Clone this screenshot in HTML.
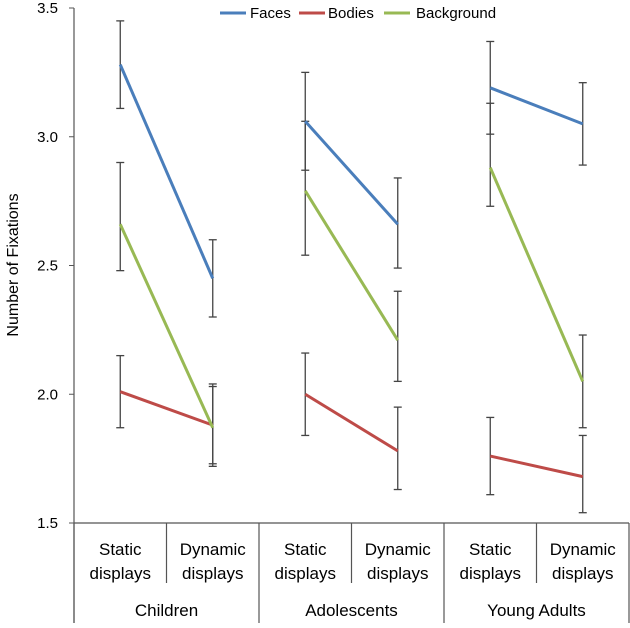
<!DOCTYPE html>
<html><head><meta charset="utf-8"><style>
html,body{margin:0;padding:0;background:#fff}
svg text{font-family:"Liberation Sans",sans-serif;fill:#000}
</style></head><body>
<svg id="chart" width="630" height="623" viewBox="0 0 630 623"></svg>
<script>
const categories=["Static displays","Dynamic displays","Static displays","Dynamic displays","Static displays","Dynamic displays"];
const groups=["Children","Adolescents","Young Adults"];
const seriesNames=["Faces","Bodies","Background"];
const colors=["#4a7ebb","#be4b48","#98b954"];
const faces=[3.28,2.45,3.06,2.66,3.19,3.05];
const facesHi=[3.45,2.60,3.25,2.84,3.37,3.21];
const facesLo=[3.11,2.30,2.87,2.49,3.01,2.89];
const bodies=[2.01,1.88,2.00,1.78,1.76,1.68];
const bodiesHi=[2.15,2.03,2.16,1.95,1.91,1.84];
const bodiesLo=[1.87,1.73,1.84,1.63,1.61,1.54];
const background=[2.66,1.87,2.79,2.21,2.88,2.05];
const backgroundHi=[2.90,2.04,3.06,2.40,3.13,2.23];
const backgroundLo=[2.48,1.72,2.54,2.05,2.73,1.87];
const yTicks=[1.5,2.0,2.5,3.0,3.5];

const svg=document.getElementById('chart');
const NS="http://www.w3.org/2000/svg";
const x0=74,x1=629,yTop=8,yBot=523,yMin=1.5,yMax=3.5;
const cw=(x1-x0)/categories.length;
const X=i=>x0+cw*(i+0.5);
const Y=v=>yBot-(v-yMin)/(yMax-yMin)*(yBot-yTop);
function mk(t,a,txt){const e=document.createElementNS(NS,t);for(const k in a)e.setAttribute(k,a[k]);if(txt!=null)e.textContent=txt;svg.appendChild(e);return e;}

let e=mk('line',{x1:x0,y1:yTop,x2:x0,y2:623,stroke:'#555','stroke-width':1.2});

e=mk('line',{x1:x0,y1:yBot,x2:x1,y2:yBot,stroke:'#555','stroke-width':1.2});

yTicks.forEach(v=>{
 const l=mk('line',{x1:x0-5,y1:Y(v),x2:x0,y2:Y(v),stroke:'#555'});
 
 const t=mk('text',{x:x0-16,y:Y(v)+5,'text-anchor':'end','font-size':15},v.toFixed(1));
 
});
e=mk('text',{x:18,y:265,'text-anchor':'middle','font-size':16,transform:'rotate(-90 18 265)'},'Number of Fixations');


for(let i=0;i<=categories.length;i++){
 const xx=x0+cw*i;const outer=i%2===0;
 const l=mk('line',{x1:xx,y1:yBot,x2:xx,y2:outer?623:583,stroke:'#555','stroke-width':1.2});
 
}
categories.forEach((c,i)=>{
 const parts=c.split(' ');
 const t1=mk('text',{x:X(i),y:555,'text-anchor':'middle','font-size':17},parts[0]);
 
 const t2=mk('text',{x:X(i),y:579,'text-anchor':'middle','font-size':17},parts[1]);
 
});
groups.forEach((g,i)=>{
 const t=mk('text',{x:x0+cw*(2*i+1),y:616,'text-anchor':'middle','font-size':17},g);
 
});

const sets=[[faces,facesHi,facesLo],[bodies,bodiesHi,bodiesLo],[background,backgroundHi,backgroundLo]];
sets.forEach((s,si)=>{
 s[0].forEach((v,i)=>{
  const xx=X(i);
  const l=mk('line',{x1:xx,y1:Y(s[1][i]),x2:xx,y2:Y(s[2][i]),stroke:'#444','stroke-width':1.3});
  
  [s[1][i],s[2][i]].forEach(w=>{
   const c=mk('line',{x1:xx-4,y1:Y(w),x2:xx+4,y2:Y(w),stroke:'#444','stroke-width':1.3});
   
  });
 });
});
sets.forEach((s,si)=>{
 for(let g=0;g<3;g++){
  const a=2*g,b=2*g+1;
  const l=mk('line',{x1:X(a),y1:Y(s[0][a]),x2:X(b),y2:Y(s[0][b]),stroke:colors[si],'stroke-width':3});
  
 }
});
const lg=[[220,250],[299,328],[384,416]];
seriesNames.forEach((n,i)=>{
 const l=mk('line',{x1:lg[i][0],y1:13,x2:lg[i][0]+26,y2:13,stroke:colors[i],'stroke-width':3});
 
 const t=mk('text',{x:lg[i][1],y:18,'font-size':15},n);
 
});
</script>
</body></html>
